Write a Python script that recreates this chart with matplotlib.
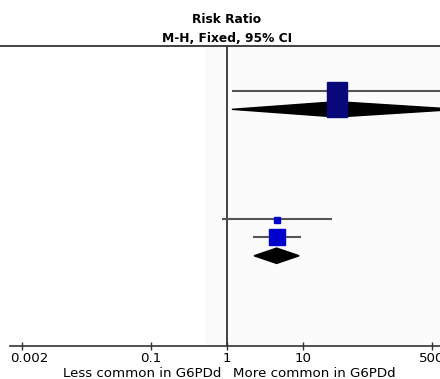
import numpy as np
import matplotlib
matplotlib.use("Agg")
import matplotlib.pyplot as plt
import matplotlib.transforms as mtransforms
from matplotlib.patches import Polygon, Rectangle
from matplotlib.lines import Line2D

# study rows (risk ratio, 95% CI)
study_rows = [0, 7, 8]
study_rr = [28.0, 4.6, 4.6]
study_lo = [1.16, 0.86, 2.2]
study_hi = [900.0, 24.0, 9.4]

# pooled (diamond) rows
total_rows = [1, 9]
total_rr = [28.0, 4.5]
total_lo = [1.16, 2.27]
total_hi = [1100.0, 8.9]

tick_vals = [0.002, 0.1, 1, 10, 500]
tick_labels = ["0.002", "0.1", "1", "10", "500"]

W, H = 440, 379
fig = plt.figure(figsize=(W / 100, H / 100), dpi=100)

top_px, axis_px = 46, 346
ax = fig.add_axes([10 / W, 1 - axis_px / H, 434 / W, (axis_px - top_px) / H])
ax.set_xscale("log")
ax.set_xlim(10 ** -2.855, 10 ** 2.855)
ax.set_ylim(13.93, -2.46)

# very faint shading right of the null line area
fig.add_artist(Rectangle((205 / W, 1 - axis_px / H), 1, (axis_px - top_px) / H,
                         transform=fig.transFigure, color="#fbfbfb", zorder=0))
ax.patch.set_alpha(0)

ax.axvline(1, color="#333333", lw=1.3, zorder=2)

# CI lines
for r, lo, hi in zip(study_rows, study_lo, study_hi):
    ax.plot([lo, hi], [r, r], color="#555555", lw=1.5, zorder=3, solid_capstyle="butt")

# diamonds
for r, est, lo, hi in zip(total_rows, total_rr, total_lo, total_hi):
    h = 0.42
    ax.add_patch(Polygon([(lo, r), (est, r - h), (hi, r), (est, r + h)],
                         closed=True, color="black", zorder=4))

# first study square (drawn large, overlaps the diamond)
f = 10 ** (10 / 76)
ax.add_patch(Rectangle((study_rr[0] / f, -0.49), study_rr[0] * f - study_rr[0] / f, 1.92,
                       color="#08087a", zorder=5))
# other squares
ax.plot(study_rr[1], study_rows[1] + 0.06, marker="s", ms=5, color="#0000cc",
        mec="#0000cc", zorder=5)
ax.plot(study_rr[2], study_rows[2], marker="s", ms=12.2, color="#0000cc",
        mec="#0000cc", zorder=5)

for s in ["top", "left", "right"]:
    ax.spines[s].set_visible(False)
ax.spines["bottom"].set_color("#333333")
ax.spines["bottom"].set_linewidth(1.2)
ax.set_yticks([])
ax.set_xticks(tick_vals)
ax.set_xticklabels(tick_labels)
ax.minorticks_off()
ax.tick_params(axis="x", direction="inout", length=6, width=1, color="#333333",
               labelsize=9.6, pad=1, labelcolor="black")
# first label sits a bit right of its tick in the reference
first = ax.get_xticklabels()[0]
first.set_transform(first.get_transform() +
                    mtransforms.ScaledTranslation(7 / 100, 0, fig.dpi_scale_trans))

fig.add_artist(Line2D([0, 1], [1 - top_px / H] * 2, transform=fig.transFigure,
                      color="#333333", lw=1.3))

cx = 227 / W
fig.text(cx, 1 - 23.3 / H, "Risk Ratio", ha="center", va="baseline",
         fontsize=8.8, fontweight="bold")
fig.text(cx, 1 - 41.7 / H, "M-H, Fixed, 95% CI", ha="center", va="baseline",
         fontsize=8.8, fontweight="bold")
fig.text(221 / W, 1 - 377 / H, "Less common in G6PDd", ha="right", va="baseline",
         fontsize=9.6)
fig.text(233 / W, 1 - 377 / H, "More common in G6PDd", ha="left", va="baseline",
         fontsize=9.6)

fig.savefig("out.png", dpi=100)
